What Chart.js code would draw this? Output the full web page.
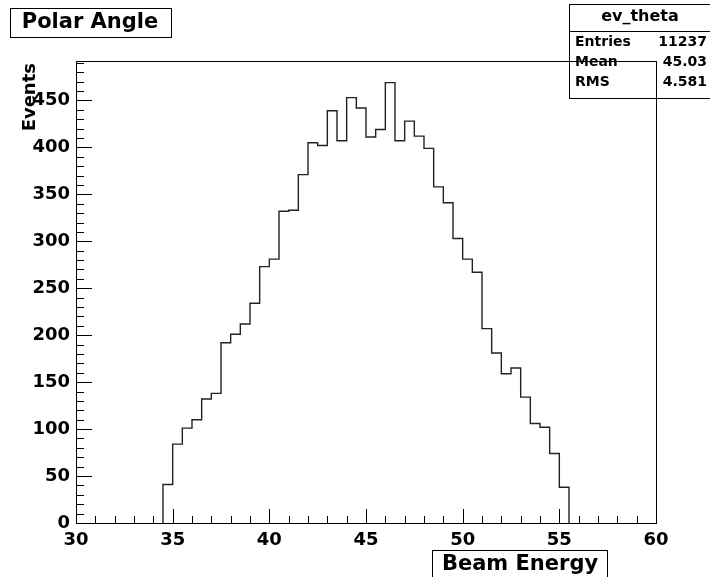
<!DOCTYPE html>
<html>
<head>
<meta charset="utf-8">
<title>Polar Angle</title>
<script src="https://cdn.jsdelivr.net/npm/chart.js@4.4.0/dist/chart.umd.min.js"></script>
<style>
  html, body { margin: 0; padding: 0; background: #fff; }
  #wrap { width: 710px; height: 577px; position: relative; }
</style>
</head>
<body>
<div id="wrap"><canvas id="myChart" width="710" height="577"></canvas></div>
<script>
// ev_theta histogram, 0.5 wide bins starting at 34.5
const binLow = 34.5
const binWidth = 0.5
const counts = [
  41, 84, 101, 110, 132, 138, 192, 201, 212, 234,
  273, 281, 332, 333, 371, 405, 402, 439, 407, 453,
  442, 411, 419, 469, 407, 428, 412, 399, 358, 341,
  303, 281, 267, 207, 181, 159, 165, 134, 106, 102,
  74, 38
]

const xRange = [30, 60]
const yRange = [0, 492]
const xLabelStep = 5
const yLabelStep = 50

const histTitle = 'Polar Angle'
const xTitle = 'Beam Energy'
const yTitle = 'Events'
const statsName = 'ev_theta'
const statsRows = [['Entries', '11237'], ['Mean', '45.03'], ['RMS', '4.581']]

// step outline: start on the baseline, one point per right bin edge, back down at the end
let points = [{ x: binLow, y: 0 }]
counts.forEach((c, i) => points.push({ x: binLow + (i + 1) * binWidth, y: c }))
points.push({ x: binLow + counts.length * binWidth, y: 0 })

const BOLD = 'bold 18px "DejaVu Sans"'

// frame, ROOT style inner ticks, title and stats boxes
const rootFrame = {
  id: 'rootFrame',
  afterDraw(chart) {
    const ctx = chart.ctx
    const a = chart.chartArea
    const xs = chart.scales.x
    const ys = chart.scales.y
    ctx.save()
    ctx.strokeStyle = '#000'
    ctx.lineWidth = 1

    // stats box (frame is drawn over it)
    ctx.fillStyle = '#fff'
    ctx.fillRect(569, 4, 145, 94)
    ctx.strokeRect(569.5, 4.5, 145, 94)
    ctx.beginPath()
    ctx.moveTo(569, 31.5); ctx.lineTo(710, 31.5)
    ctx.stroke()
    ctx.fillStyle = '#000'
    ctx.font = 'bold 16px "DejaVu Sans"'
    ctx.textBaseline = 'middle'
    ctx.textAlign = 'center'
    ctx.fillText(statsName, 640, 17)
    ctx.font = 'bold 14px "DejaVu Sans"'
    statsRows.forEach((r, i) => {
      const y = 42 + i * 20
      ctx.textAlign = 'left'
      ctx.fillText(r[0], 575, y)
      ctx.textAlign = 'right'
      ctx.fillText(r[1], 707, y)
    })

    // frame
    ctx.strokeRect(Math.round(a.left) + 0.5, Math.round(a.top) + 0.5,
      Math.round(a.right - a.left), Math.round(a.bottom - a.top))

    // x ticks
    ctx.beginPath()
    for (let v = xRange[0]; v <= xRange[1]; v += 1) {
      const px = Math.round(xs.getPixelForValue(v)) + 0.5
      const len = v % 5 === 0 ? 14 : 7
      ctx.moveTo(px, a.bottom); ctx.lineTo(px, a.bottom - len)
    }
    // y ticks
    for (let v = yRange[0]; v <= yRange[1]; v += 10) {
      const py = Math.round(ys.getPixelForValue(v)) + 0.5
      const len = v % 50 === 0 ? 16 : 8
      ctx.moveTo(a.left, py); ctx.lineTo(a.left + len, py)
    }
    ctx.stroke()

    // title box
    ctx.fillStyle = '#fff'
    ctx.fillRect(10, 8, 161, 29)
    ctx.strokeRect(10.5, 8.5, 161, 29)
    ctx.fillStyle = '#000'
    ctx.font = 'bold 21px "DejaVu Sans"'
    ctx.textAlign = 'center'
    ctx.textBaseline = 'middle'
    ctx.fillText(histTitle, 90, 23)

    // x axis title box
    ctx.fillStyle = '#fff'
    ctx.fillRect(432, 550, 175, 40)
    ctx.strokeRect(432.5, 550.5, 175, 40)
    ctx.fillStyle = '#000'
    ctx.fillText(xTitle, 520, 565)

    // y axis title, right aligned to the top of the axis
    ctx.font = BOLD
    ctx.translate(30, a.top + 2)
    ctx.rotate(-Math.PI / 2)
    ctx.textAlign = 'right'
    ctx.fillText(yTitle, 0, 0)
    ctx.restore()
  }
}

var ctx = document.getElementById('myChart').getContext('2d')
var chart = new Chart(ctx, {
  type: 'line',
  data: {
    datasets: [{
      label: statsName,
      data: points,
      stepped: 'after',
      borderColor: '#222',
      borderWidth: 1.4,
      pointRadius: 0,
      fill: false,
      tension: 0
    }]
  },
  options: {
    responsive: false,
    animation: false,
    events: [],
    layout: { padding: { top: 61, right: 54, left: 0, bottom: 0 } },
    plugins: { legend: { display: false }, tooltip: { enabled: false } },
    scales: {
      x: {
        type: 'linear',
        min: xRange[0],
        max: xRange[1],
        grid: { display: false, drawTicks: false },
        border: { display: false },
        afterFit: s => { s.height = 54 },
        ticks: {
          stepSize: xLabelStep,
          includeBounds: false,
          autoSkip: false,
          maxRotation: 0,
          padding: 7,
          color: '#000',
          font: { family: 'DejaVu Sans', size: 18, weight: 'bold' }
        }
      },
      y: {
        min: yRange[0],
        max: yRange[1],
        grid: { display: false, drawTicks: false },
        border: { display: false },
        afterFit: s => { s.width = 76 },
        ticks: {
          stepSize: yLabelStep,
          includeBounds: false,
          padding: 6,
          color: '#000',
          font: { family: 'DejaVu Sans', size: 18, weight: 'bold' }
        }
      }
    }
  },
  plugins: [rootFrame]
})
</script>
</body>
</html>
